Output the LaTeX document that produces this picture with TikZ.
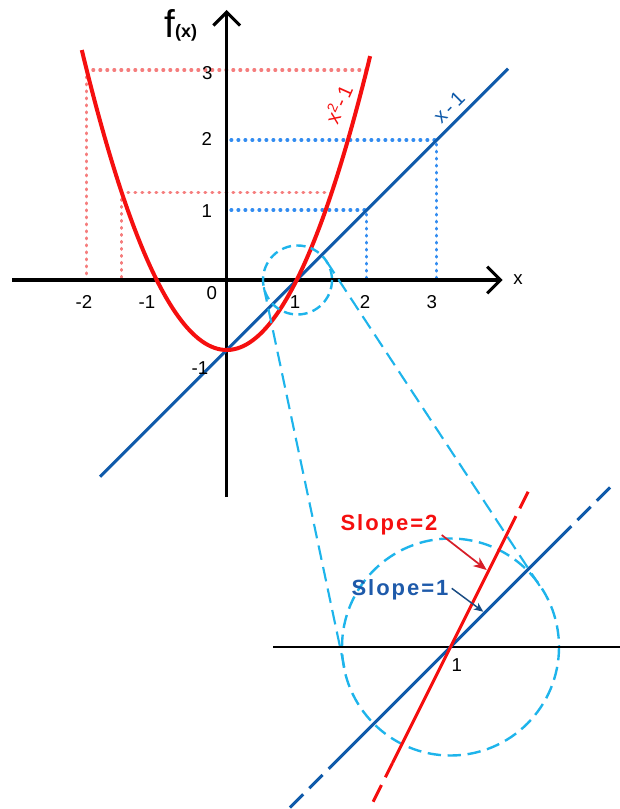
\documentclass[tikz,border=0pt]{standalone}
\usepackage{fontspec}
\setmainfont{Liberation Sans}
\newfontfamily\spacedA[LetterSpace=9]{Liberation Sans}
\newfontfamily\spacedB[LetterSpace=18]{Liberation Sans}
\usetikzlibrary{arrows.meta,calc}
\definecolor{curvered}{RGB}{245,15,15}
\definecolor{lineblue}{RGB}{15,90,170}
\definecolor{dotred}{RGB}{245,125,125}
\definecolor{dotblue}{RGB}{50,140,240}
\definecolor{mycyan}{RGB}{30,180,235}
\definecolor{arrowred}{RGB}{215,30,40}
\definecolor{arrowblue}{RGB}{25,75,130}
\definecolor{textblue}{RGB}{30,90,170}
\begin{document}
\begin{tikzpicture}[x=0.75pt,y=-0.75pt,
  axisline/.style={line width=2.3pt, black, -{Straight Barb[length=10pt,width=20pt]}},
  dotr/.style={dotred, line width=2.4pt, line cap=round, dash pattern=on 0.6pt off 4.65pt},
  dotb/.style={dotblue, line width=2.4pt, line cap=round, dash pattern=on 0.6pt off 4.65pt},
  cyansmall/.style={mycyan, line width=1.8pt, dash pattern=on 7pt off 4pt},
  cyanbig/.style={mycyan, line width=1.8pt, dash pattern=on 10pt off 5pt},
  cyanline/.style={mycyan, line width=1.6pt, dash pattern=on 11pt off 5.5pt},
  ticklbl/.style={font=\fontsize{14}{14}\selectfont, inner sep=0pt},
  endseg/.style={dash pattern=on 14pt off 6.5pt},
]
\useasboundingbox (0,0) rectangle (620,809);

% ---------- dotted guide lines ----------
\coordinate (rA) at (86.7,70);   \coordinate (rA2) at (366.7,70);
\coordinate (rB) at (121.7,192.5); \coordinate (rB2) at (331.7,192.5);
\draw[dotr] (rA2) -- (rA) -- (86.7,278);
\draw[dotr] (rB2) -- (rB) -- (121.7,278);
\coordinate (bA) at (436.7,140); \coordinate (bB) at (366.7,210);
\draw[dotb] (231,140) -- (bA) -- (436.7,278);
\draw[dotb] (231,210) -- (bB) -- (366.7,278);

% ---------- axes ----------
\coordinate (xL) at (12,280);   \coordinate (xR) at (502.7,280);
\coordinate (yB) at (226.7,497); \coordinate (yT) at (226.7,10);
\draw[axisline] (xL) -- (xR);
\draw[axisline] (yB) -- (yT);

% ---------- curves ----------
\coordinate (lb1) at (100,476.7); \coordinate (lb2) at (508,68.7);
\draw[lineblue, line width=2.3pt] (lb1) -- (lb2);
\draw[curvered, line width=3pt] plot[domain=-2.07:2.05, samples=90, smooth]
  ({226.7+70*\x},{280-70*(\x*\x-1)});

% ---------- labels ----------
\node[anchor=base west, inner sep=0pt] (fx) at (164,38)
  {\fontsize{29}{29}\selectfont f\fontsize{13.5}{14}\selectfont\bfseries(x)};
\node[font=\fontsize{14}{14}\selectfont, inner sep=0pt] (xlab) at (518,280) {x};
\node[ticklbl] (tm2) at (84,302) {-2};
\node[ticklbl] (tm1) at (147,302) {-1};
\node[ticklbl] (t0)  at (211.7,293) {0};
\node[ticklbl] (t1)  at (295,301.7) {1};
\node[ticklbl] (t2)  at (365,301.7) {2};
\node[ticklbl] (t3)  at (431.7,301.7) {3};
\node[ticklbl] (y1)  at (206.7,210.7) {1};
\node[ticklbl] (y2)  at (206.7,139.3) {2};
\node[ticklbl] (y3)  at (207.3,73.3) {3};
\node[ticklbl] (ym1) at (200,368) {-1};
\node[text=curvered, rotate=66, inner sep=0pt, font=\fontsize{15}{15}\selectfont] (plab) at (338,104)
  {\spacedB x\textsuperscript{2}-1};
\node[text=lineblue, rotate=45, inner sep=0pt, font=\fontsize{15}{15}\selectfont] (llab) at (449,107.5)
  {\spacedB x-1};

% ---------- zoom circles ----------
\coordinate (cS) at (297.5,280);
\coordinate (cB) at (450.5,647);
\draw[cyanbig] (cB) circle[radius=108.5];
\draw[cyansmall] (cS) circle[radius=34.5];
\coordinate (tSL) at (263.8,287.2); \coordinate (tBL) at (344.8,669.5);
\coordinate (tSR) at (326.3,261.0); \coordinate (tBR) at (540.8,587.5);
\draw[cyanline] (tSL) -- (tBL);
\draw[cyanline] (tSR) -- (tBR);

% ---------- magnified view ----------
\coordinate (aL) at (273,647); \coordinate (aR) at (620,647);
\draw[black, line width=1.6pt] (aL) -- (aR);

\coordinate (b0) at (290,807.5); \coordinate (b1) at (330,767.5);
\coordinate (b2) at (570,527.5); \coordinate (b3) at (610,487.5);
\draw[lineblue, line width=2.3pt] (b1) -- (b2);
\draw[lineblue, line width=2.3pt, endseg] (b0) -- (b1);
\draw[lineblue, line width=2.3pt, endseg] (b3) -- (b2);

\coordinate (r0) at (373.15,801.7); \coordinate (r1) at (392.5,763);
\coordinate (r2) at (509,530);      \coordinate (r3) at (528.15,491.7);
\draw[curvered, line width=2.3pt] (r1) -- (r2);
\draw[curvered, line width=2.3pt, endseg] (r0) -- (r1);
\draw[curvered, line width=2.3pt, endseg] (r3) -- (r2);

\node[ticklbl] (one) at (456.7,665) {1};

\node[text=curvered, inner sep=0pt, font=\fontsize{16.5}{17}\selectfont] (s2) at (389,525)
  {\spacedA\bfseries Slope=2};
\node[text=textblue, inner sep=0pt, font=\fontsize{16.5}{17}\selectfont] (s1) at (400,590)
  {\spacedA\bfseries Slope=1};
\coordinate (s2a) at (441.7,535); \coordinate (s2b) at (486.7,570);
\coordinate (s1a) at (451.7,588.3); \coordinate (s1b) at (483.3,611.7);
\draw[arrowred, line width=1.3pt, -{Stealth[length=10pt,width=8pt,inset=3pt]}] (s2a) -- (s2b);
\draw[arrowblue, line width=1.1pt, -{Stealth[length=7pt,width=6pt,inset=2pt]}] (s1a) -- (s1b);
\end{tikzpicture}
\end{document}
